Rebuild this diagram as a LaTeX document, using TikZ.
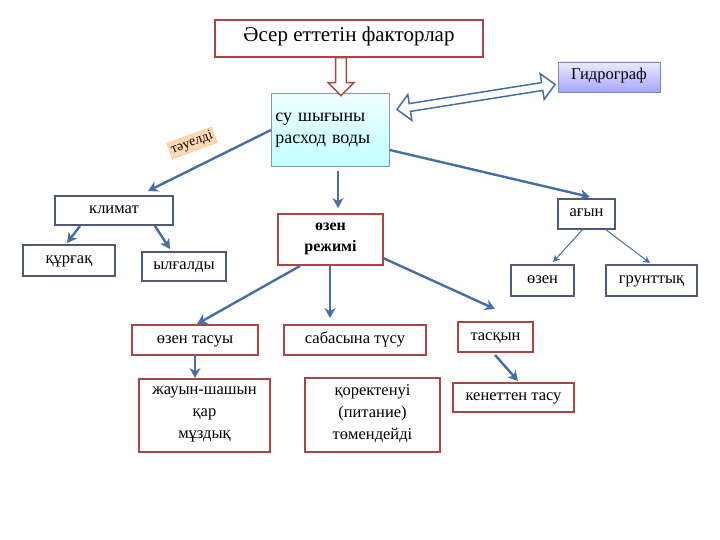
\documentclass[tikz,border=0pt]{standalone}
\usepackage{fontspec}
\setmainfont{Liberation Serif}
\usetikzlibrary{arrows.meta,shapes.arrows}
\definecolor{arr}{RGB}{70,110,170}
\definecolor{redb}{RGB}{170,70,70}
\definecolor{blueb}{RGB}{80,90,120}
\tikzset{
 rb/.style={draw=redb,line width=1.4pt,fill=white,font=\fontsize{16.5}{19}\selectfont,inner sep=0pt},
 bb/.style={draw=blueb,line width=1.4pt,fill=white,font=\fontsize{16.5}{19}\selectfont,inner sep=0pt},
 one/.style={text height=11pt,text depth=5pt},
 ar/.style={draw=arr,line width=2.4pt,-{Stealth[length=10pt,width=11pt]}},
 tar/.style={draw=arr,line width=1pt,-{Stealth[length=7pt,width=7pt]}}
}
\begin{document}
\begin{tikzpicture}[x=1pt,y=-1pt]
\useasboundingbox (0,0) rectangle (720,540);
\node[rb,one,font=\fontsize{21}{24}\selectfont,minimum width=268pt,minimum height=37pt] (t) at (349,38.5) {Әсер еттетін факторлар};
\node[draw=blueb!70,line width=0.8pt,top color=blue!8,bottom color=blue!35,one,font=\fontsize{16.5}{19}\selectfont,minimum width=102pt,minimum height=30pt,inner sep=0pt] (g) at (609,77) {Гидрограф};
\node[draw=arr!70,line width=0.8pt,top color=cyan!5,bottom color=cyan!25,font=\fontsize{18}{22}\selectfont,minimum width=118pt,minimum height=73pt,align=left,text width=110pt,anchor=north west,inner xsep=4pt,inner ysep=9pt] (s) at (271,93) {су шығыны\\расход воды};
\node[draw=orange!60,fill=orange!30,rotate=20,font=\fontsize{14}{16}\selectfont,inner sep=2pt] (tau) at (192,143) {тәуелді};
% hollow arrows
\node[single arrow,draw=redb,line width=1.5pt,fill=white,shape border rotate=270,minimum height=38pt,minimum width=26pt,single arrow head extend=4pt,inner sep=2pt] (ha) at (341,74) {};
\node[double arrow,draw=arr,line width=1.5pt,fill=white,rotate=9,minimum height=160pt,minimum width=26pt,double arrow head extend=4pt,inner sep=1pt] (da) at (476,97) {};
\node[bb,one,minimum width=118pt,minimum height=29pt] (k) at (114,210.5) {климат};
\node[bb,one,minimum width=92pt,minimum height=31pt] (q) at (69,260.5) {құрғақ};
\node[bb,one,minimum width=84pt,minimum height=29pt] (y) at (184,266.5) {ылғалды};
\node[rb,minimum width=105pt,minimum height=51pt,align=center,font=\bfseries\fontsize{16}{21}\selectfont] (r) at (330.5,239.5) {өзен\\режимі\rule[-4pt]{0pt}{4pt}};
\node[bb,one,minimum width=57pt,minimum height=30pt] (a) at (586.5,214) {ағын};
\node[bb,one,minimum width=63pt,minimum height=31pt] (oz) at (542.5,280.5) {өзен};
\node[bb,one,minimum width=91pt,minimum height=31pt] (gr) at (651.5,280.5) {грунттық};
\node[rb,one,minimum width=126pt,minimum height=30pt] (ot) at (195,340) {өзен тасуы};
\node[rb,one,minimum width=142pt,minimum height=30pt] (sb) at (355,340) {сабасына түсу};
\node[rb,one,minimum width=75pt,minimum height=30pt] (tq) at (495.5,337) {тасқын};
\node[rb,minimum width=131pt,minimum height=73pt,align=center,font=\fontsize{16.5}{22}\selectfont] (zh) at (204.5,415.5) {жауын-шашын\\қар\\мұздық\rule[-5pt]{0pt}{5pt}};
\node[rb,minimum width=135pt,minimum height=74pt,align=center,font=\fontsize{16.5}{22}\selectfont] (kr) at (372.5,415) {қоректенуі\\(питание)\\төмендейді\rule[-5pt]{0pt}{5pt}};
\node[rb,one,minimum width=121pt,minimum height=29pt] (ke) at (513.5,397.5) {кенеттен тасу};
% connectors
\draw[ar] (s.west|-0,130) -- (148,191);
\draw[ar] (338,171) -- (338,208);
\draw[ar] (s.east|-0,150) -- (590,197);
\draw[ar] (80,226) -- (67,243);
\draw[ar] (155,226) -- (170,249);
\draw[ar] (300,266) -- (197,324);
\draw[ar] (330,266) -- (330,318);
\draw[ar] (383,258) -- (495,309);
\draw[tar] (583,229) -- (553,262);
\draw[tar] (605,229) -- (650,263);
\draw[ar] (195,356) -- (195,378);
\draw[ar] (495,355) -- (518,381);
\end{tikzpicture}
\end{document}
